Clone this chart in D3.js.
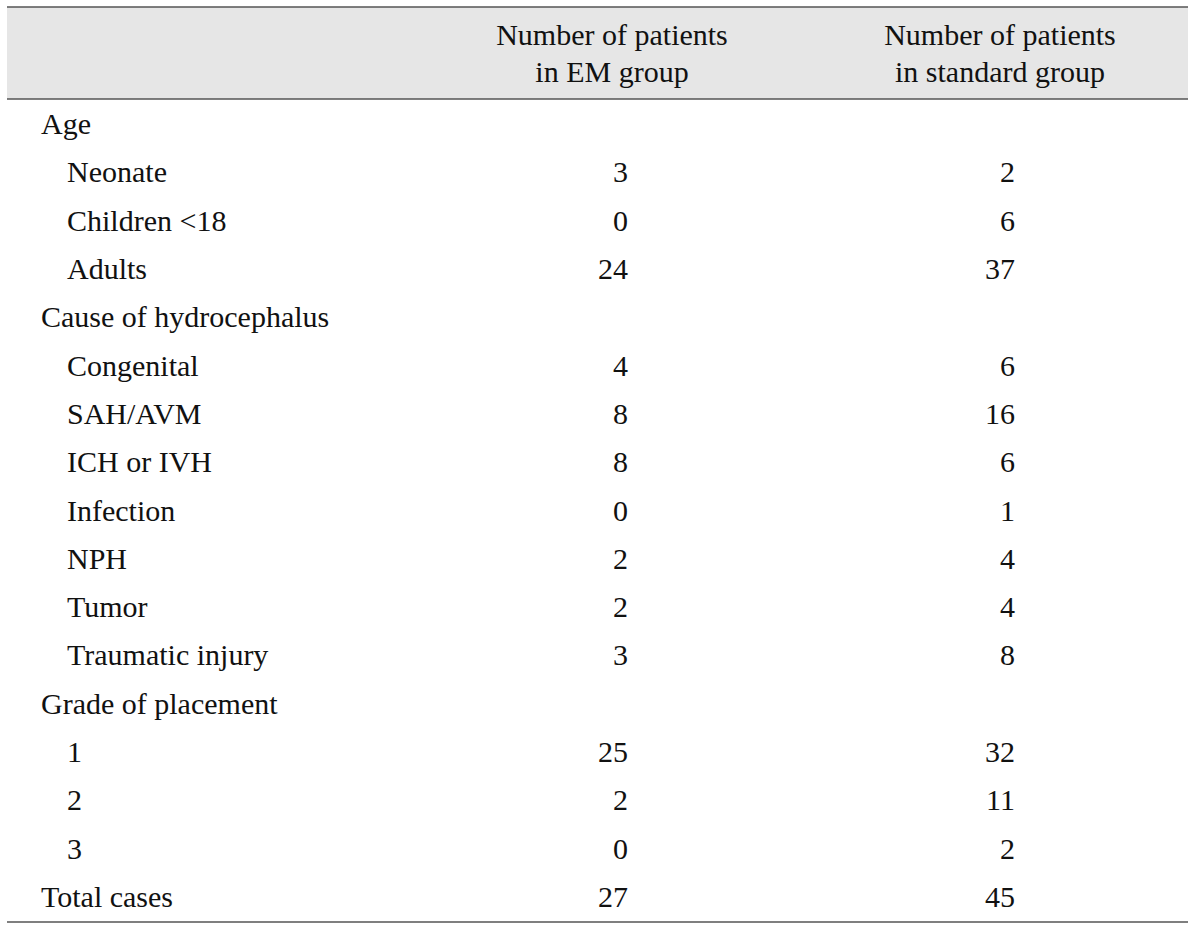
<!DOCTYPE html>
<html>
<head>
<meta charset="utf-8">
<script src="https://cdn.jsdelivr.net/npm/d3@7"></script>
<style>
  body { margin: 0; background: #fff; }
  text { font-family: "Liberation Serif", "DejaVu Serif", serif; fill: #111; }
</style>
</head>
<body>
<script>
var headerEM = ['Number of patients', 'in EM group'];
var headerStd = ['Number of patients', 'in standard group'];

var rowLabels = ['Age', 'Neonate', 'Children <18', 'Adults',
  'Cause of hydrocephalus', 'Congenital', 'SAH/AVM', 'ICH or IVH', 'Infection', 'NPH', 'Tumor', 'Traumatic injury',
  'Grade of placement', '1', '2', '3', 'Total cases'];
var rowIndent = [0, 1, 1, 1, 0, 1, 1, 1, 1, 1, 1, 1, 0, 1, 1, 1, 0];
var emValues = [null, 3, 0, 24, null, 4, 8, 8, 0, 2, 2, 3, null, 25, 2, 0, 27];
var stdValues = [null, 2, 6, 37, null, 6, 16, 6, 1, 4, 4, 8, null, 32, 11, 2, 45];

var width = 1200, height = 931;
var fontSize = 30;

var svg = d3.select('body')
  .append('svg')
  .attr('width', width)
  .attr('height', height);

// row baselines
var y = d3.scalePoint()
  .domain(d3.range(rowLabels.length))
  .range([134, 907]);

var x = d3.scaleOrdinal()
  .domain(['label', 'em', 'std'])
  .range([41, 628, 1015]);

// header band
svg.append('rect')
  .attr('x', 7).attr('y', 7)
  .attr('width', 1181).attr('height', 92)
  .attr('fill', '#e6e6e6');

[7, 99, 922].forEach(function(ly) {
  svg.append('line')
    .attr('x1', 7).attr('x2', 1188)
    .attr('y1', ly).attr('y2', ly)
    .attr('stroke', '#555').attr('stroke-width', 1.5);
});

[[headerEM, 612], [headerStd, 1000]].forEach(function(h) {
  svg.selectAll(null)
    .data(h[0])
    .enter()
    .append('text')
    .attr('x', h[1])
    .attr('y', function(d, i) { return 45 + i * 36.5; })
    .attr('text-anchor', 'middle')
    .attr('font-size', fontSize)
    .text(function(d) { return d; });
});

var rows = svg.selectAll('g.row')
  .data(rowLabels)
  .enter()
  .append('g')
  .attr('class', 'row')
  .attr('transform', function(d, i) { return 'translate(0,' + y(i) + ')'; });

rows.append('text')
  .attr('x', function(d, i) { return x('label') + rowIndent[i] * 26; })
  .attr('font-size', fontSize)
  .text(function(d) { return d; });

rows.append('text')
  .attr('x', x('em'))
  .attr('text-anchor', 'end')
  .attr('font-size', fontSize)
  .text(function(d, i) { return emValues[i] === null ? '' : emValues[i]; });

rows.append('text')
  .attr('x', x('std'))
  .attr('text-anchor', 'end')
  .attr('font-size', fontSize)
  .text(function(d, i) { return stdValues[i] === null ? '' : stdValues[i]; });
</script>
</body>
</html>
